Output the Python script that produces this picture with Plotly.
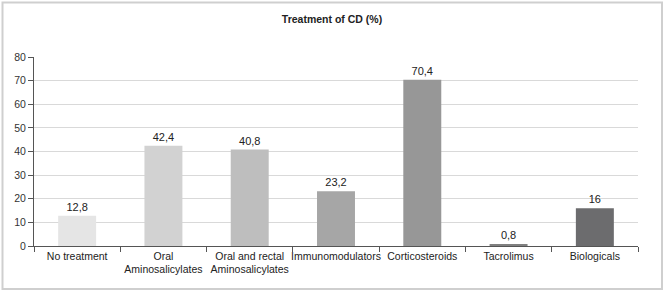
import plotly.graph_objects as go

categories = ["No treatment", "Oral<br>Aminosalicylates", "Oral and rectal<br>Aminosalicylates",
              "Immunomodulators", "Corticosteroids", "Tacrolimus", "Biologicals"]
values = [12.8, 42.4, 40.8, 23.2, 70.4, 0.8, 16]
bar_colors = ["#e5e5e5", "#d2d2d2", "#bebebe", "#a6a6a6", "#979797", "#808080", "#6c6c6e"]
y_ticks = [0, 10, 20, 30, 40, 50, 60, 70, 80]
title_text = "Treatment of CD (%)"

labels = [(f"{v:g}").replace(".", ",") for v in values]

FONT = "Liberation Sans, Arial, sans-serif"

W, H = 665, 293
ml, mr, mt, mb = 34, 27, 57, 47

fig = go.Figure(go.Bar(
    x=categories, y=values, marker=dict(color=bar_colors, line=dict(width=0)),
    text=labels, textposition="outside", cliponaxis=False,
    textfont=dict(family=FONT, size=11, color="#222222"),
    width=0.44, hoverinfo="skip",
))

pw = W - ml - mr
ph = H - mt - mb
fig.add_shape(type="rect", xref="paper", yref="paper",
              x0=(2.5 - ml) / pw, x1=(662 - ml) / pw,
              y0=(H - mb - 289) / ph, y1=(H - mb - 2.5) / ph,
              line=dict(color="#cfcfcf", width=2), layer="below")

fig.update_layout(
    width=W, height=H,
    margin=dict(l=ml, r=mr, t=mt, b=mb, autoexpand=False),
    paper_bgcolor="white", plot_bgcolor="white",
    showlegend=False,
    font=dict(family=FONT, size=11, color="#222222"),
    title=dict(text="<b>" + title_text + "</b>", x=332 / W, xanchor="center",
               y=1 - 19 / H, yanchor="middle",
               font=dict(family=FONT, size=10.5, color="#222222")),
    xaxis=dict(showline=True, linecolor="#555555", linewidth=1, tickangle=0,
               ticks="outside", tickson="boundaries", ticklen=5, tickcolor="#555555",
               showgrid=False, automargin=False,
               tickfont=dict(family=FONT, size=10.5, color="#222222")),
    yaxis=dict(range=[0, 80], tickvals=y_ticks, showline=True, linecolor="#555555",
               linewidth=1, ticks="outside", ticklen=5, tickcolor="#555555",
               showgrid=True, gridcolor="#d9d9d9", gridwidth=1, zeroline=False,
               automargin=False,
               tickfont=dict(family=FONT, size=10.5, color="#333333")),
)

fig.write_html("out.html", config={"displayModeBar": False},
               post_script="document.body.style.margin='0';document.body.style.padding='0';")
